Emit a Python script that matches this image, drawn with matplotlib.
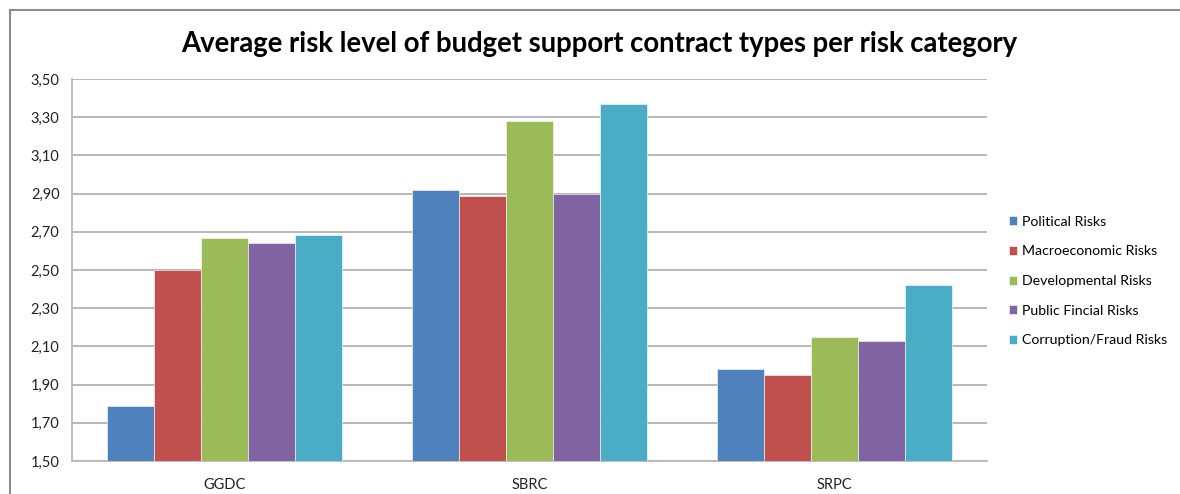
import numpy as np
import matplotlib
matplotlib.use("Agg")
import matplotlib.pyplot as plt
from matplotlib.lines import Line2D

plt.rcParams['font.family'] = ['Lato', 'DejaVu Sans']

contracts = ['GGDC', 'SBRC', 'SRPC']
risk_types = ['Political Risks', 'Macroeconomic Risks', 'Developmental Risks',
              'Public Fincial Risks', 'Corruption/Fraud Risks']
political = [1.79, 2.92, 1.98]
macroeconomic = [2.50, 2.89, 1.95]
developmental = [2.67, 3.28, 2.15]
public_financial = [2.64, 2.90, 2.13]
corruption = [2.685, 3.37, 2.42]
colors = ['#4F81BD', '#C0504D', '#9BBB59', '#8064A2', '#4BACC6']
yticks = [1.50, 1.70, 1.90, 2.10, 2.30, 2.50, 2.70, 2.90, 3.10, 3.30, 3.50]

series = [political, macroeconomic, developmental, public_financial, corruption]

fig = plt.figure(figsize=(11.8, 4.94), dpi=100)
ax = fig.add_axes([72 / 1180, 1 - 461 / 494, (987 - 72) / 1180, (461 - 79) / 494])

x = np.arange(len(contracts))
width = 0.154
base = 1.50
for i, (vals, name, col) in enumerate(zip(series, risk_types, colors)):
    offs = (i - 2) * width
    ax.bar(x + offs, np.array(vals) - base, width, bottom=base, color=col,
           label=name, zorder=3, edgecolor='white', linewidth=0.4)

ax.set_xlim(-0.5, len(contracts) - 0.5)
ax.set_ylim(1.50, 3.50)
ax.set_yticks(yticks)
ax.set_yticklabels([f"{v:.2f}".replace('.', ',') for v in yticks])
ax.set_xticks(x)
ax.set_xticklabels(contracts)
ax.tick_params(length=0, labelsize=10.5, colors='#222222', pad=9)
ax.tick_params(axis='x', pad=12)
ax.grid(axis='y', color='#ababab', linewidth=1.2, zorder=0)
for s in ['top', 'right']:
    ax.spines[s].set_visible(False)
for s in ['left', 'bottom']:
    ax.spines[s].set_color('#b5b5b5')
    ax.spines[s].set_linewidth(1.2)

fig.text(0.508, 1 - 44 / 494, 'Average risk level of budget support contract types per risk category',
         ha='center', va='center', fontsize=19.8, fontweight='bold')

# outer chart border
fig.add_artist(Line2D([10 / 1180, 1], [1 - 10 / 494] * 2, color='#8c8c8c', linewidth=1.5))
fig.add_artist(Line2D([10 / 1180] * 2, [0, 1 - 10 / 494], color='#8c8c8c', linewidth=1.5))

fig.legend(loc='center left', bbox_to_anchor=(1003 / 1180, 1 - 281 / 494), frameon=False,
           fontsize=10.2, handlelength=0.6, handleheight=0.6, handletextpad=0.35,
           labelspacing=1.25, borderaxespad=0)

fig.savefig('out.png', dpi=100)
